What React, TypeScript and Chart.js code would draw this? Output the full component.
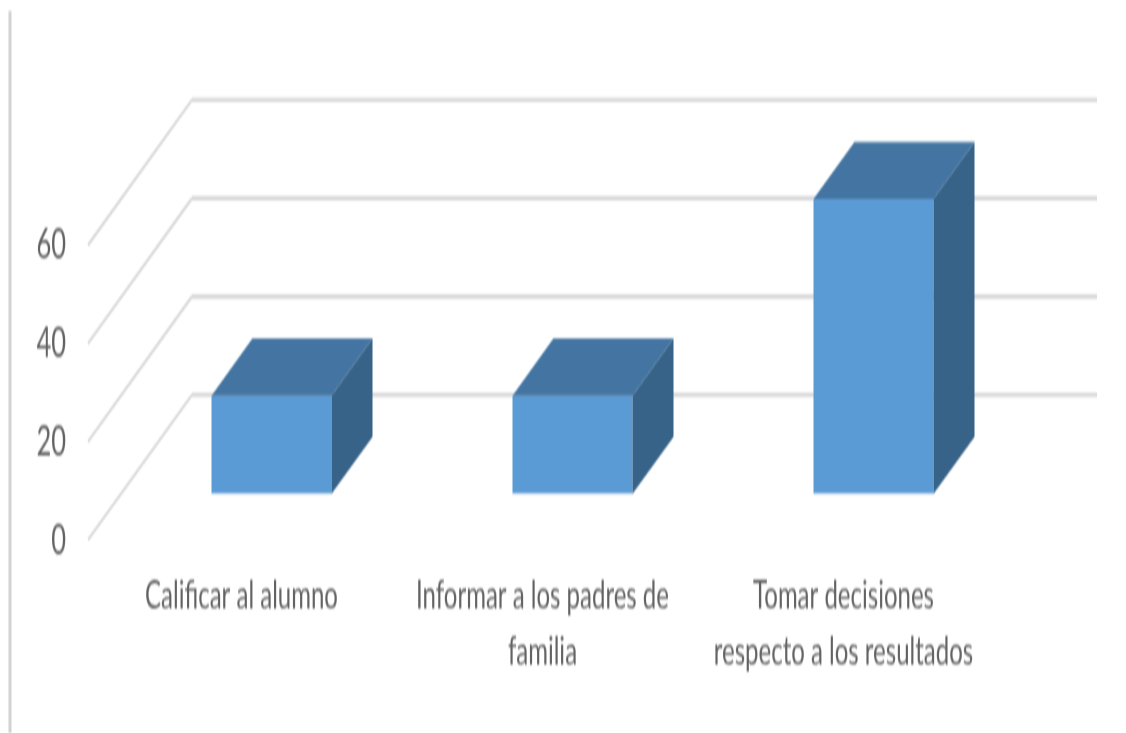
import React, { useEffect, useRef } from "react";
import { Chart, registerables } from "chart.js";

Chart.register(...registerables);

const categories: (string | string[])[] = [
  "Calificar al alumno",
  ["Informar a los padres de", "familia"],
  ["Tomar decisiones", "respecto a los resultados"],
];
const seriesValues = [20, 20, 60];
const gridValues = [0, 20, 40, 60];

const W = 1126;
const H = 733;
const K = 1.7; // vertical stretch of the picture
const sy = (y: number) => y / K;

const depthPlugin = {
  id: "depth3d",
  beforeDatasetsDraw(chart: any) {
    const { ctx } = chart;
    const yScale = chart.scales.y;
    ctx.save();
    // frame line at the left
    ctx.fillStyle = "#d2d2d2";
    ctx.fillRect(8.5, sy(11), 3, sy(722));
    // walls
    ctx.strokeStyle = "#d9d9d9";
    ctx.lineCap = "butt";
    for (const v of gridValues) {
      const y = yScale.getPixelForValue(v);
      const backY = y - sy(99);
      ctx.lineWidth = 2.6;
      ctx.beginPath();
      ctx.moveTo(192, backY);
      ctx.lineTo(1097, backY);
      ctx.stroke();
      ctx.lineWidth = 2;
      ctx.beginPath();
      ctx.moveTo(192, backY);
      ctx.lineTo(88, backY + sy(145));
      ctx.stroke();
    }
    ctx.restore();
  },
  afterDatasetsDraw(chart: any) {
    const { ctx } = chart;
    const dx = 41;
    const dy = sy(57);
    ctx.save();
    for (const bar of chart.getDatasetMeta(0).data) {
      const half = bar.width / 2;
      const l = bar.x - half;
      const r = bar.x + half;
      const t = bar.y;
      const b = bar.base;
      ctx.fillStyle = "#4475a2";
      ctx.beginPath();
      ctx.moveTo(l, t);
      ctx.lineTo(l + dx, t - dy);
      ctx.lineTo(r + dx, t - dy);
      ctx.lineTo(r, t);
      ctx.closePath();
      ctx.fill();
      ctx.fillStyle = "#386388";
      ctx.beginPath();
      ctx.moveTo(r, t);
      ctx.lineTo(r + dx, t - dy);
      ctx.lineTo(r + dx, b - dy);
      ctx.lineTo(r, b);
      ctx.closePath();
      ctx.fill();
    }
    ctx.restore();
  },
};

export default function App() {
  const ref = useRef<HTMLCanvasElement>(null);

  useEffect(() => {
    document.body.style.margin = "0";
    document.body.style.overflow = "hidden";
    const canvas = ref.current!;
    const chart = new Chart(canvas, {
      type: "bar",
      data: {
        labels: categories as any,
        datasets: [
          {
            data: seriesValues,
            backgroundColor: "#5b9bd5",
            borderWidth: 0,
            categoryPercentage: 1,
            barPercentage: 120 / 301,
          },
        ],
      },
      options: {
        responsive: false,
        animation: false,
        layout: { padding: { top: sy(199), right: W - 1024, left: 0, bottom: 0 } },
        plugins: { legend: { display: false }, tooltip: { enabled: false } },
        scales: {
          x: {
            grid: { display: false, drawTicks: false },
            border: { display: false },
            ticks: {
              color: "#636363",
              font: { family: "Lato", size: 24, weight: "400", lineHeight: 1.348 },
              maxRotation: 0,
              autoSkip: false,
              padding: sy(75),
              labelOffset: -30,
            },
            afterFit(scale: any) {
              scale.height = sy(H - 494);
            },
          },
          y: {
            min: 0,
            max: 60,
            grid: { display: false, drawTicks: false },
            border: { display: false },
            ticks: {
              stepSize: 20,
              color: "#636363",
              font: { family: "Lato", size: 25.5, weight: "400" },
              padding: 55,
              labelOffset: sy(46),
            },
            afterFit(scale: any) {
              scale.width = 121;
            },
          },
        },
      },
      plugins: [depthPlugin],
    });
    return () => chart.destroy();
  }, []);

  return (
    <div style={{ position: "absolute", left: 0, top: 0, width: W, height: H, overflow: "hidden", background: "#fff" }}>
      <div style={{ transform: `scale(1, ${K})`, transformOrigin: "0 0", width: W, height: H / K, filter: "blur(0.5px)" }}>
        <canvas ref={ref} width={W} height={Math.round(H / K)} style={{ display: "block" }} />
      </div>
    </div>
  );
}
